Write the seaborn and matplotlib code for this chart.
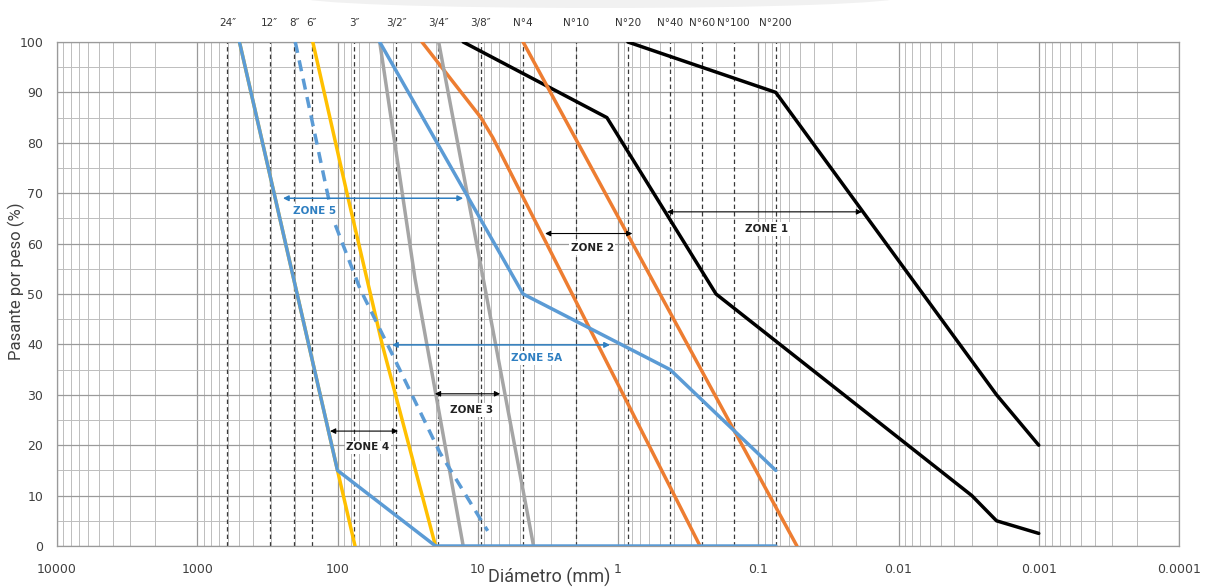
import matplotlib
matplotlib.use("Agg")
import pandas as pd
import matplotlib.pyplot as plt
import seaborn as sns
from matplotlib.ticker import FixedLocator, FixedFormatter, LogLocator, MultipleLocator, NullFormatter
from matplotlib.patches import Ellipse
from matplotlib.transforms import IdentityTransform, blended_transform_factory

# sieve openings (mm) and their labels on top
sieve_labels = ["24″", "12″", "8″", "6″", "3″", "3/2″", "3/4″", "3/8″",
                "N°4", "N°10", "N°20", "N°40", "N°60", "N°100", "N°200"]
sieve_mm = [609.6, 304.8, 203.2, 152.4, 76.2, 38.1, 19.05, 9.525,
            4.75, 2.0, 0.85, 0.425, 0.25, 0.15, 0.075]

xtick_vals = [10000, 1000, 100, 10, 1, 0.1, 0.01, 0.001, 0.0001]
xtick_labels = ["10000", "1000", "100", "10", "1", "0.1", "0.01", "0.001", "0.0001"]

# gradation curves (diameter mm, % passing)
z1_fine_d = [0.85, 0.075, 0.002, 0.001]
z1_fine_p = [100, 90, 30, 20]
z1_coarse_d = [12.7, 1.2, 0.2, 0.003, 0.002, 0.001]
z1_coarse_p = [100, 85, 50, 10, 5, 2.5]
z2_left_d = [25, 9.5, 7.8, 0.26]
z2_left_p = [100, 85, 81, 0]
z2_right_d = [4.75, 0.053]
z2_right_p = [100, 0]
z3_left_d = [50, 28, 12.7]
z3_left_p = [100, 53, 0]
z3_right_d = [19, 4.0]
z3_right_p = [100, 0]
z4_d = [150, 84, 48, 20]
z4_p = [100, 69, 40, 0]
z4_low_d = [500, 100, 75]
z4_low_p = [100, 15, 0]
z5_left_d = [500, 100, 20, 0.075]
z5_left_p = [100, 15, 0, 0]
z5a_d = [50, 4.75, 0.425, 0.075]
z5a_p = [100, 50, 35, 15]
z5_dash_d = [200, 108, 69, 39, 18.6, 8.5]
z5_dash_p = [100, 65, 51, 37, 18.5, 3]

# zone arrows: (x_from, x_to, y, label, label_x, label_y, colour)
zone_names = ["ZONE 1", "ZONE 2", "ZONE 3", "ZONE 4", "ZONE 5", "ZONE 5A"]
zone_x1 = [0.448, 3.31, 20.2, 113, 245, 40.9]
zone_x2 = [0.0182, 0.79, 6.93, 37, 12.7, 1.14]
zone_y = [66.3, 62, 30.2, 22.8, 69, 39.9]
zone_tx = [0.0867, 1.53, 11, 60.6, 145, 3.78]
zone_ty = [62.9, 59.1, 27, 19.6, 66.5, 37.3]

BLACK = "#000000"
ORANGE = "#ED7D31"
GRAY = "#A5A5A5"
YELLOW = "#FFC000"
BLUE = "#5B9BD5"
ARROW_BLUE = "#2F7FC1"
zone_colors = [BLACK, BLACK, BLACK, BLACK, ARROW_BLUE, ARROW_BLUE]

sns.set_theme(style="whitegrid")
plt.rcParams['font.family'] = ['DejaVu Sans']

fig = plt.figure(figsize=(12.07, 5.88), dpi=100)
ax = fig.add_axes([57/1207, 42/588, 1122/1207, 504/588])
ax.set_xscale("log")

# faint watermark band at the very top
fig.add_artist(Ellipse((600, 590.75), 600, 21.5, transform=IdentityTransform(),
                       facecolor="#f1f1f1", edgecolor="none", zorder=0))

curves = [
    (z1_coarse_d, z1_coarse_p, BLACK, "-"),
    (z1_fine_d, z1_fine_p, BLACK, "-"),
    (z2_left_d, z2_left_p, ORANGE, "-"),
    (z2_right_d, z2_right_p, ORANGE, "-"),
    (z3_left_d, z3_left_p, GRAY, "-"),
    (z3_right_d, z3_right_p, GRAY, "-"),
    (z4_low_d, z4_low_p, YELLOW, "-"),
    (z4_d, z4_p, YELLOW, "-"),
    (z5_left_d, z5_left_p, BLUE, "-"),
    (z5a_d, z5a_p, BLUE, "-"),
    (z5_dash_d, z5_dash_p, BLUE, (0, (3.2, 2.2))),
]
for d, p, c, ls in curves:
    df = pd.DataFrame({"diam": d, "pas": p})
    sns.lineplot(data=df, x="diam", y="pas", ax=ax, color=c, linewidth=2.5,
                 linestyle=ls, sort=False, estimator=None, zorder=3)

# sieve dashed lines + labels on top
ax.vlines(sieve_mm, 0, 100, colors="#3a3a3a", linestyles=(0, (3.5, 2.5)), linewidth=0.9, zorder=2)
trans = blended_transform_factory(ax.transData, ax.transAxes)
for lab, d in zip(sieve_labels, sieve_mm):
    ax.text(d, 1.038, lab, transform=trans, ha="center", va="center",
            fontsize=7.5, color="#333333")

# zone arrows
for name, x1, x2, y, tx, ty, c in zip(zone_names, zone_x1, zone_x2, zone_y,
                                      zone_tx, zone_ty, zone_colors):
    ax.annotate("", xy=(x2, y), xytext=(x1, y),
                arrowprops=dict(arrowstyle="<|-|>", color=c, lw=1.1 if c == ARROW_BLUE else 0.8,
                                mutation_scale=8, shrinkA=0, shrinkB=0), zorder=4)
    ax.text(tx, ty, name, ha="center", va="center", fontsize=7.5, fontweight="bold",
            color=c if c == ARROW_BLUE else "#222222", zorder=4,
            bbox=dict(facecolor="white", edgecolor="none", pad=1.2))

ax.set_xlim(10000, 0.0001)
ax.set_ylim(0, 100)
ax.xaxis.set_major_locator(FixedLocator(xtick_vals))
ax.xaxis.set_major_formatter(FixedFormatter(xtick_labels))
ax.xaxis.set_minor_locator(LogLocator(base=10, subs=range(2, 10), numticks=100))
ax.xaxis.set_minor_formatter(NullFormatter())
ax.yaxis.set_major_locator(MultipleLocator(10))
ax.yaxis.set_minor_locator(MultipleLocator(5))

ax.grid(which="major", axis="both", color="#9a9a9a", linewidth=0.9, zorder=1)
ax.grid(which="minor", axis="both", color="#bdbdbd", linewidth=0.7, zorder=1)
ax.set_axisbelow(True)
for s in ax.spines.values():
    s.set_color("#9a9a9a")
    s.set_linewidth(0.9)

ax.tick_params(axis="both", which="both", length=0, labelsize=9, colors="#404040")
ax.tick_params(axis="x", pad=12)
ax.tick_params(axis="y", pad=10)

ax.set_xlabel("Diámetro (mm)", fontsize=13, color="#404040", va="center", family=["Roboto", "DejaVu Sans"])
ax.xaxis.set_label_coords((549 - 57) / 1122, (546 - 577) / 504)
ax.set_ylabel("Pasante por peso (%)", fontsize=12, color="#404040", va="center", family=["Roboto", "DejaVu Sans"])
ax.yaxis.set_label_coords((16 - 57) / 1122, (546 - 281) / 504)

fig.savefig("out.png", dpi=100)
